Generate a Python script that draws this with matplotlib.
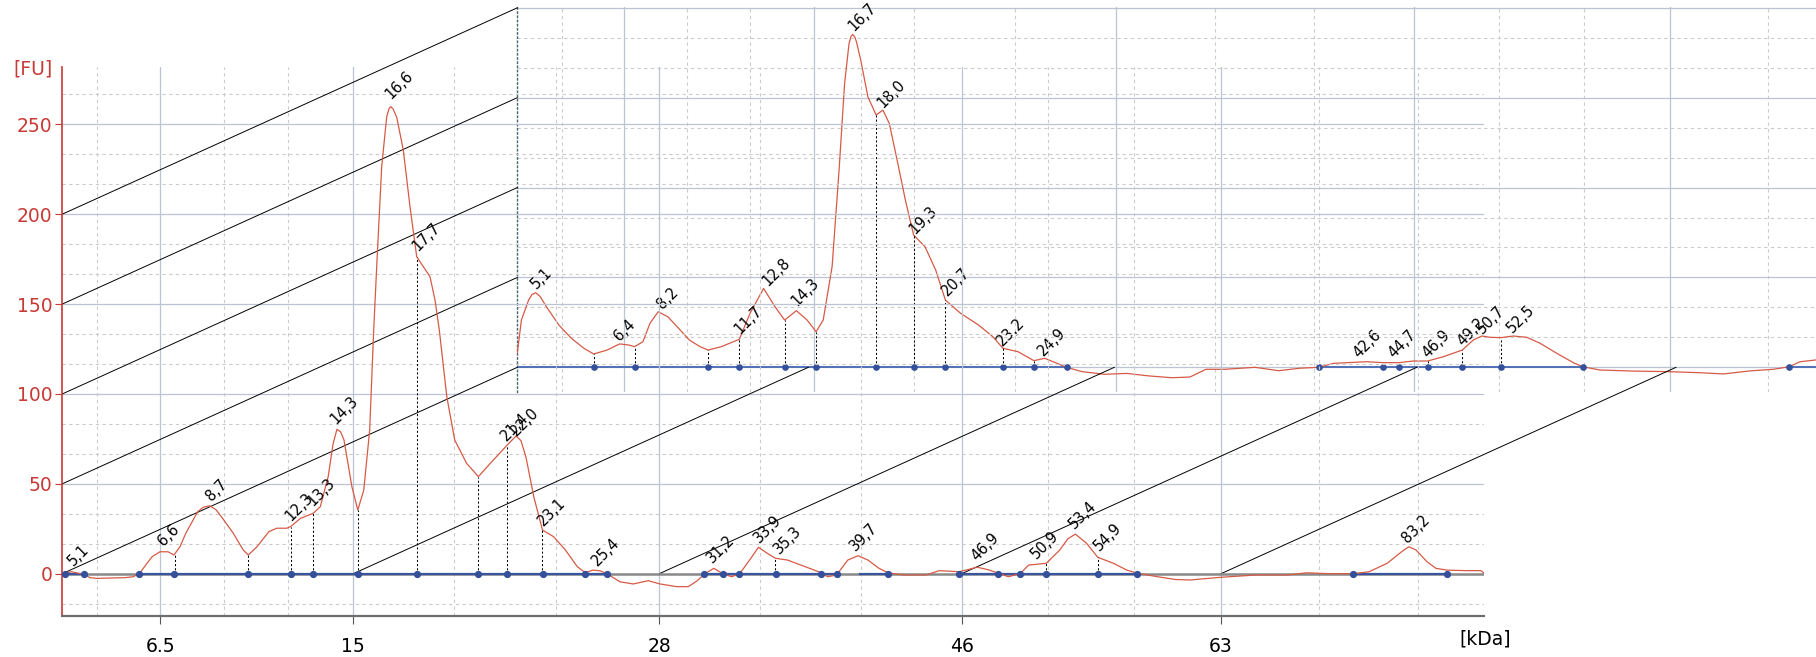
import numpy as np
import matplotlib
matplotlib.use("Agg")
from matplotlib import pyplot as plt

# sizing ladder: kDa labels and where they sit on the migration axis
ladder_kda = ["6.5", "15", "28", "46", "63"]
front_ladder_pos = [16.03, 35.33, 65.93, 96.17, 122.10]
front_minor_pos = [9.70, 22.37, 28.77, 45.43, 55.60, 76.00, 86.07, 104.80, 113.40, 131.90, 141.77]
back_ladder_pos = [16.90, 35.85, 66.10, 95.92, 121.52]
back_minor_pos = [10.65, 23.15, 29.50, 45.93, 56.00, 76.00, 85.85, 104.40, 112.85, 131.30]

# front sample (migration position, fluorescence [FU])
front_t = [6.25, 7.17, 7.8, 8.43, 9.0, 9.67, 11.0, 12.5, 13.3, 13.93, 14.6, 15.22, 16.01, 16.8,
           17.4, 18.0, 18.58, 19.77, 20.35, 20.96, 21.6, 22.14, 23.33, 24.32, 24.83, 25.7,
           26.89, 27.68, 28.67, 29.06, 30.05, 31.32, 32.03, 32.82, 33.3, 33.69, 34.05, 34.4,
           35.19, 35.78, 36.38, 36.97, 37.37, 37.67, 38.17, 38.67, 38.9, 39.07, 39.3, 39.67,
           40.33, 41.0, 41.67, 42.33, 43.0, 43.5, 43.93, 44.68, 45.47, 46.66, 47.84, 49.03,
           50.73, 51.6, 52.1, 52.59, 53.38, 54.25, 55.36, 56.54, 57.73, 58.52, 59.3, 60.0,
           60.7, 62.0, 63.33, 64.83, 66.0, 67.67, 68.83, 69.7, 70.5, 71.38, 72.28, 73.17,
           73.97, 74.96, 75.85, 76.74, 77.54, 78.75, 80.09, 81.43, 82.1, 82.77, 83.66, 84.78,
           85.8, 86.79, 87.9, 88.8, 90.36, 92.59, 93.93, 95.94, 97.72, 98.84, 99.87, 100.85,
           102.05, 102.86, 104.64, 105.98, 106.8, 107.54, 108.66, 109.78, 111.34, 112.68,
           113.79, 115.8, 117.5, 119.0, 122.05, 125.67, 128.75, 130.67, 133.0, 135.33, 136.91,
           138.72, 140.16, 140.88, 141.6, 142.69, 143.59, 144.68, 146.66, 148.1, 148.4]
front_fu = [0, 1.1, 0.3, -0.5, -2.2, -2.6, -2.4, -2.2, -1.7, 0, 5, 9.5, 12.2, 12.2,
            10.4, 15, 22.5, 34.5, 37.0, 37.8, 35.6, 31.7, 22.5, 13.2, 10.4, 15,
            23.4, 25.3, 25.3, 26.2, 30.8, 33.6, 37.3, 54, 72, 80.3, 79, 74.4,
            48.4, 35.4, 46.6, 80, 135.5, 170.8, 226.4, 254.2, 258.7, 259.8, 258.6, 254,
            235.7, 204.2, 176.4, 170.8, 165.2, 152.3, 135.6, 98.5, 74.4, 61.4, 54, 61.4,
            71.6, 76.6, 74, 65, 42.8, 24.3, 20.6, 13.2, 3.9, 0.6, 2, 1.6,
            0, -4.5, -5.7, -3.9, -5.7, -7.2, -7.2, -4, 0, 3, 0, -1.7,
            0, 7.6, 14.7, 11.3, 8.6, 7.6, 4.8, 2, 0.5, -1.7, -0.7, 7.6,
            10, 7.6, 3, 0.5, -0.7, -0.7, 1.7, 1.1, 3.6, 2.2, 0.2, -1.7,
            0.2, 4.8, 5.8, 13.2, 19.5, 22, 16.9, 9.1, 5.8, 2,
            0.2, -1.7, -3.2, -3.5, -2, -0.7, -0.7, 0.5, 0, 0, 1.1,
            5.8, 12.2, 15, 13.2, 6.7, 3, 2, 1.7, 1.7, 0.3]

# back sample
back_t = [6.23, 6.64, 7.36, 7.7, 8.07, 8.5, 9.14, 10.39, 11.64, 12.89, 13.86, 15.21, 16.46,
          17.36, 17.96, 18.79, 19.5, 20.32, 21.29, 22.36, 23.43, 24.5, 25.32, 26.64, 28.43,
          29.5, 30.86, 32.0, 32.96, 34.14, 35.21, 36.11, 36.82, 37.71, 38.43, 38.96, 39.4,
          39.6, 39.79, 40.0, 40.15, 40.57, 41.29, 42.11, 42.79, 43.43, 44.14, 45.04, 45.86,
          47.0, 48.07, 49.04, 50.57, 52.36, 53.79, 54.79, 56.29, 57.89, 58.96, 60.21, 61.15,
          62.7, 64.95, 67.18, 69.4, 71.7, 73.5, 75.1, 77.0, 80.0, 82.36, 84.5, 86.4, 87.83,
          91.17, 92.77, 94.4, 95.83, 97.27, 98.83, 100.73, 101.83, 102.67, 103.5, 104.57,
          105.83, 107.17, 108.5, 110.17, 111.83, 112.77, 114.5, 117.83, 121.17, 124.5,
          126.83, 129.5, 131.83, 133.43, 134.5, 136.1]
back_fu = [8.0, 26.3, 37.4, 40.5, 41.5, 39.5, 33.7, 23.5, 16.1, 10.6, 7.4, 9.6, 13,
           12.4, 11.5, 14.2, 24.5, 30.9, 28.1, 21.7, 15.2, 11.5, 9.6, 11.5, 15.6,
           30, 43.9, 33.7, 26.3, 31.5, 26.3, 19.8, 26.3, 56, 111.6, 158, 180,
           184.2, 185.2, 183.5, 181, 171, 150.5, 140.4, 143.1, 135.7, 117.2, 93, 73.6,
           67.1, 54.1, 37.4, 30, 23.5, 17, 10.6, 8.7, 3.7, 5, 2.2, 0,
           -2.4, -3.9, -3.4, -4.8, -5.8, -5.4, -1.1, -1.1, 0, -1.9, -0.5, 0, 2.2,
           3.1, 2.6, 2.6, 3.5, 3.5, 5.9, 9.6, 15.2, 17.4, 16.7, 16.5,
           17.4, 16.7, 13.4, 7.8, 2.6, 0.3, -1.5, -2.1, -2.4, -3,
           -3.7, -2, -1.1, 0.3, 3.1, 4.1]

# peak labels (kDa) and where they sit
front_peak_kda = ["5,1", "6,6", "8,7", "12,3", "13,3", "14,3", "16,6", "17,7", "21,4", "22,0",
                  "23,1", "25,4", "31,2", "33,9", "35,3", "39,7", "46,9", "50,9", "53,4",
                  "54,9", "83,2"]
front_peak_t = [7.3, 16.34, 21.16, 29.15, 31.3, 33.62, 39.1, 41.77, 50.6, 51.6,
                54.3, 59.7, 71.3, 76.0, 78.0, 85.6, 97.65, 103.68, 107.48, 109.93, 140.76]
front_peak_fu = [4, 15, 40, 29, 37.3, 82.7, 263.5, 179, 73.4, 76.2,
                 26, 3.9, 5.8, 16.9, 10.4, 12.2, 6.7, 7.6, 24.3, 12.2, 16.9]

back_peak_kda = ["5,1", "6,4", "8,2", "11,7", "12,8", "14,3", "16,7", "18,0", "19,3", "20,7",
                 "23,2", "24,9", "42,6", "44,7", "46,9", "49,2", "50,7", "52,5"]
back_peak_t = [8.14, 16.46, 20.8, 28.5, 31.35, 34.2, 39.9, 42.78, 46.0, 49.2,
               54.74, 58.85, 90.43, 93.93, 97.27, 100.77, 102.77, 105.77]
back_peak_fu = [43, 14.2, 31.9, 18, 44.8, 33.7, 186.7, 144, 73.6, 39.3,
                11.5, 5.9, 5, 5, 5, 11.5, 18, 18.9]

# integration: peak split lines (position, curve height) and baseline markers
front_split_t = [17.48, 24.83, 29.06, 31.32, 35.78, 41.67, 47.84, 50.73, 54.25, 77.54,
                 104.64, 109.78, 144.68]
front_split_fu = [10.4, 10.4, 26.2, 33.6, 35.4, 176.4, 54, 71.6, 24.3, 8.6, 5.8, 9.1, 2]
front_marks = [6.5, 8.43, 13.93, 17.43, 24.83, 29.07, 31.33, 35.83, 41.67, 47.83, 50.73,
               54.27, 58.5, 60.73, 70.43, 72.33, 73.93, 77.57, 82.1, 83.73, 88.83, 95.93,
               99.83, 102.0, 104.6, 109.83, 113.73, 135.33, 144.73]
front_base_start = [6.5, 13.93, 70.43, 86.0, 95.93, 135.33]
front_base_end = [8.43, 60.73, 83.73, 88.83, 113.73, 144.73]

back_split_t = [13.86, 17.96, 25.32, 28.43, 32.96, 36.11, 42.11, 45.86, 49.04, 54.79, 57.89,
                92.77, 94.4, 97.27, 100.73, 104.57]
back_split_fu = [7.4, 11.5, 9.6, 15.6, 26.3, 19.8, 140.4, 73.6, 37.4, 10.6, 3.7,
                 2.6, 2.6, 3.5, 9.6, 16.5]
back_marks = [13.86, 17.96, 25.32, 28.43, 32.96, 36.11, 42.11, 45.86, 49.04, 54.79, 57.89,
              61.15, 86.4, 92.77, 94.4, 97.27, 100.73, 104.57, 112.77, 133.43]
back_base_start = [6.23, 86.4, 133.43]
back_base_end = [61.15, 112.77, 136.1]

fu_major = [0, 50, 100, 150, 200, 250]

RED = "#c83a36"
TRACE = "#d65a46"
BLUE = "#34509a"
GRID = "#bcc3d2"
MINOR = "#cbcbcb"
DEPTH_X, DEPTH_Y = 45.5, 114.8   # offset of the back sample, in front data units

fig = plt.figure(figsize=(18.16, 6.57), dpi=100)
ax_b = fig.add_axes([0.28486, 0.40335, 0.71514, 0.58604], zorder=0)
ax = fig.add_axes([0.034306, 0.062861, 0.78287, 0.83470], zorder=1)
ax.patch.set_alpha(0.0)

minor_fu = [v for v in np.arange(-50, 300, 50 / 3) if abs(v / 50 - round(v / 50)) > 0.01]


def grid_setup(a, major_x, minor_x):
    a.set_xticks(major_x)
    a.set_xticks(minor_x, minor=True)
    a.set_yticks(fu_major)
    a.set_yticks(minor_fu, minor=True)
    a.grid(which="major", color=GRID, lw=0.9)
    a.grid(which="minor", color=MINOR, lw=0.8, linestyle=(0, (3, 3)))
    a.set_axisbelow(True)
    a.tick_params(which="minor", length=0)


# ---- back sample ----
grid_setup(ax_b, back_ladder_pos, back_minor_pos)
ax_b.set_xlim(6.23, 136.1)
ax_b.set_ylim(-13.74, 200.5)
ax_b.tick_params(which="major", length=0, labelbottom=False, labelleft=False)
for s in ["top", "right", "bottom"]:
    ax_b.spines[s].set_visible(False)
ax_b.spines["left"].set_linestyle((0, (1, 2)))
ax_b.spines["left"].set_color("#4a6470")
ax_b.spines["left"].set_linewidth(1.0)

for s0, s1 in zip(back_base_start, back_base_end):
    ax_b.plot([s0, s1], [0, 0], color="#5070b8", lw=1.4, zorder=2)
ax_b.plot(back_t, back_fu, color=TRACE, lw=0.9, zorder=3)
ax_b.vlines(back_split_t, 0, back_split_fu, colors="black", lw=0.75,
            linestyles=(0, (2, 2)), zorder=3)
ax_b.plot(back_marks, [0] * len(back_marks), "o", color=BLUE, ms=3.8, zorder=4)
for lab, t, y in zip(back_peak_kda, back_peak_t, back_peak_fu):
    ax_b.text(t, y, lab, rotation=45, rotation_mode="anchor", ha="left", va="baseline",
              fontsize=10.5, color="black", zorder=5)

# ---- front sample ----
grid_setup(ax, front_ladder_pos, front_minor_pos)
ax.set_xlim(6.23, 148.4)
ax.set_ylim(-23.36, 281.7)
ax.set_xticklabels(ladder_kda)
ax.tick_params(axis="x", which="major", length=6, color="#555555", labelsize=13.5, pad=9,
               labelcolor="black")
ax.tick_params(axis="y", which="major", length=5, color=RED, labelsize=13.5, pad=2,
               labelcolor=RED)
ax.spines["top"].set_visible(False)
ax.spines["right"].set_visible(False)
ax.spines["left"].set_color(RED)
ax.spines["left"].set_linewidth(1.2)
ax.spines["bottom"].set_color("#6e6e6e")
ax.spines["bottom"].set_linewidth(1.6)

# depth lines joining the two samples
for y0 in [0, 50, 100, 150, 200]:
    ax.plot([6.23, 6.23 + DEPTH_X], [y0, y0 + DEPTH_Y], color="black", lw=0.7,
            clip_on=False, zorder=2)
for x0 in front_ladder_pos[1:]:
    ax.plot([x0, x0 + DEPTH_X], [0, DEPTH_Y], color="black", lw=0.7, clip_on=False, zorder=2)

ax.plot([6.23, 148.4], [0, 0], color="#8a8a8a", lw=1.8, zorder=2)
for s0, s1 in zip(front_base_start, front_base_end):
    ax.plot([s0, s1], [0, 0], color="#3a55a0", lw=1.6, zorder=2.5)
ax.plot(front_t, front_fu, color=TRACE, lw=0.9, zorder=3)
ax.vlines(front_split_t, 0, front_split_fu, colors="black", lw=0.75,
          linestyles=(0, (2, 2)), zorder=3)
ax.plot(front_marks, [0] * len(front_marks), "o", color=BLUE, ms=4.2, zorder=4)
for lab, t, y in zip(front_peak_kda, front_peak_t, front_peak_fu):
    ax.text(t, y, lab, rotation=45, rotation_mode="anchor", ha="left", va="baseline",
            fontsize=10.5, color="black", zorder=5)

fig.text(33 / 1816, 1 - 69 / 657, "[FU]", color=RED, fontsize=13.5, ha="center", va="center")
fig.text(1485 / 1816, 1 - 639 / 657, "[kDa]", color="black", fontsize=13.5,
         ha="center", va="center")

fig.savefig("out.png", dpi=100)
